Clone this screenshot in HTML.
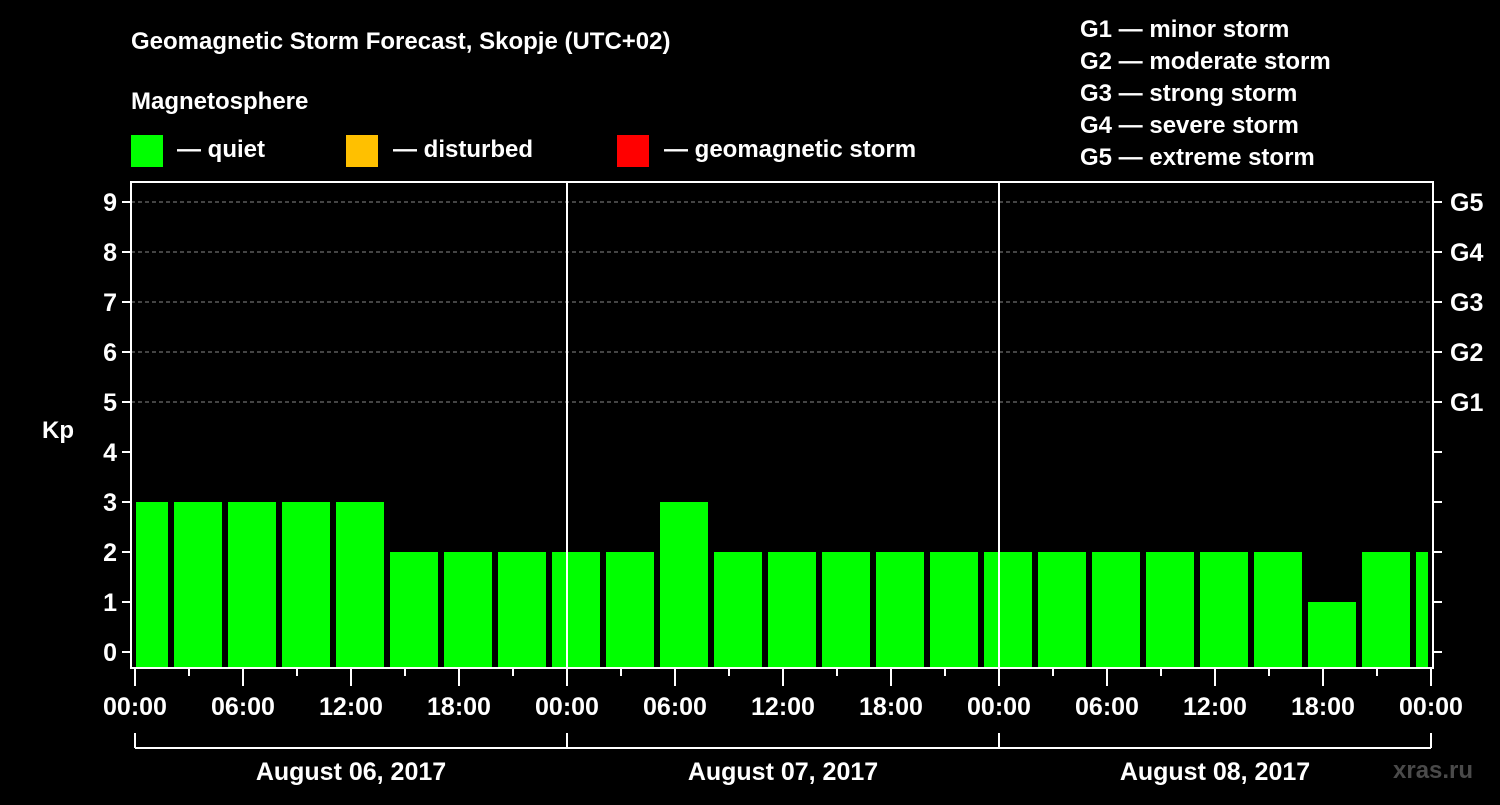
<!DOCTYPE html>
<html><head><meta charset="utf-8"><style>
body{margin:0;background:#000;}
svg text{font-family:"Liberation Sans",sans-serif;font-weight:bold;fill:#fff;}
</style></head><body>
<svg id="c" width="1500" height="800" xmlns="http://www.w3.org/2000/svg">
<rect width="1500" height="800" fill="#000"/>
<text x="131" y="49" font-size="24">Geomagnetic Storm Forecast, Skopje (UTC+02)</text>
<text x="131" y="109" font-size="24">Magnetosphere</text>
<rect x="131" y="135" width="32" height="32" fill="#00ff00"/>
<text x="177" y="157" font-size="24">— quiet</text>
<rect x="346" y="135" width="32" height="32" fill="#ffc000"/>
<text x="393" y="157" font-size="24">— disturbed</text>
<rect x="617" y="135" width="32" height="32" fill="#ff0000"/>
<text x="664" y="157" font-size="24">— geomagnetic storm</text>
<g font-size="24">
<text x="1080" y="37">G1 — minor storm</text>
<text x="1080" y="69">G2 — moderate storm</text>
<text x="1080" y="101">G3 — strong storm</text>
<text x="1080" y="133">G4 — severe storm</text>
<text x="1080" y="165">G5 — extreme storm</text>
</g>
<text x="42" y="438" font-size="24">Kp</text>
<text x="1393" y="778" font-size="24" fill="#555" style="fill:#4a4a4a">xras.ru</text>
<g id="grid"></g><g id="bars"></g><g id="axes"></g>
</svg>
<script>
const kpValues=[3,3,3,3,3,2,2,2,2,2,3,2,2,2,2,2,2,2,2,2,2,2,1,2,2];
const yTicks=[0,1,2,3,4,5,6,7,8,9];
const gLabels=[[5,"G1"],[6,"G2"],[7,"G3"],[8,"G4"],[9,"G5"]];
const xTickLabels=["00:00","06:00","12:00","18:00","00:00","06:00","12:00","18:00","00:00","06:00","12:00","18:00","00:00"];
const dayLabels=["August 06, 2017","August 07, 2017","August 08, 2017"];
const NS="http://www.w3.org/2000/svg";
const L=131,R=1433,T=182,B=668,X0=135;
const xs=h=>X0+h*18;
const ys=v=>652-v*50;
function mk(tag,a,p){const e=document.createElementNS(NS,tag);for(const k in a)e.setAttribute(k,a[k]);p.appendChild(e);return e;}
const grid=document.getElementById('grid'),bars=document.getElementById('bars'),axes=document.getElementById('axes');
gLabels.forEach(g=>{
 const l=mk('line',{x1:L,x2:R,y1:ys(g[0]),y2:ys(g[0]),stroke:'#888','stroke-dasharray':'4,3','stroke-width':1},grid);
 
 
 const t=mk('text',{x:1450,y:ys(g[0])+9,'font-size':25},axes);t.textContent=g[1];
 
 
});
kpValues.forEach((v,i)=>{
 const c=xs(0.5+3*i);let x1=Math.max(c-24,L+5),x2=Math.min(c+24,R-5);
 const r=mk('rect',{x:x1,y:ys(v),width:x2-x1,height:B-ys(v),fill:'#00ff00'},bars);
 
 
});
[1,2].forEach(d=>{const l=mk('line',{x1:xs(24*d),x2:xs(24*d),y1:T,y2:B,stroke:'#fff','stroke-width':2},axes);
 
 });
const fr=mk('rect',{x:L,y:T,width:R-L,height:B-T,fill:'none',stroke:'#fff','stroke-width':2},axes);


yTicks.forEach(v=>{
 mk('line',{x1:L-9,x2:L,y1:ys(v),y2:ys(v),stroke:'#fff','stroke-width':2},axes);
 mk('line',{x1:R,x2:R+9,y1:ys(v),y2:ys(v),stroke:'#fff','stroke-width':2},axes);
 const t=mk('text',{x:L-14,y:ys(v)+9,'font-size':25,'text-anchor':'end'},axes);t.textContent=v;
 
 
});
for(let h=0;h<=72;h+=3){mk('line',{x1:xs(h),x2:xs(h),y1:B,y2:B+(h%6?8:18),stroke:'#fff','stroke-width':2},axes);}
xTickLabels.forEach((s,i)=>{const t=mk('text',{x:xs(6*i),y:715,'font-size':25,'text-anchor':'middle'},axes);t.textContent=s;
 
 });
mk('line',{x1:xs(0),x2:xs(72),y1:748,y2:748,stroke:'#fff','stroke-width':2},axes);
for(let d=0;d<=3;d++)mk('line',{x1:xs(24*d),x2:xs(24*d),y1:733,y2:748,stroke:'#fff','stroke-width':2},axes);
dayLabels.forEach((s,i)=>{const t=mk('text',{x:xs(24*i+12),y:780,'font-size':25,'text-anchor':'middle'},axes);t.textContent=s;
 
 });
</script>
</body></html>
